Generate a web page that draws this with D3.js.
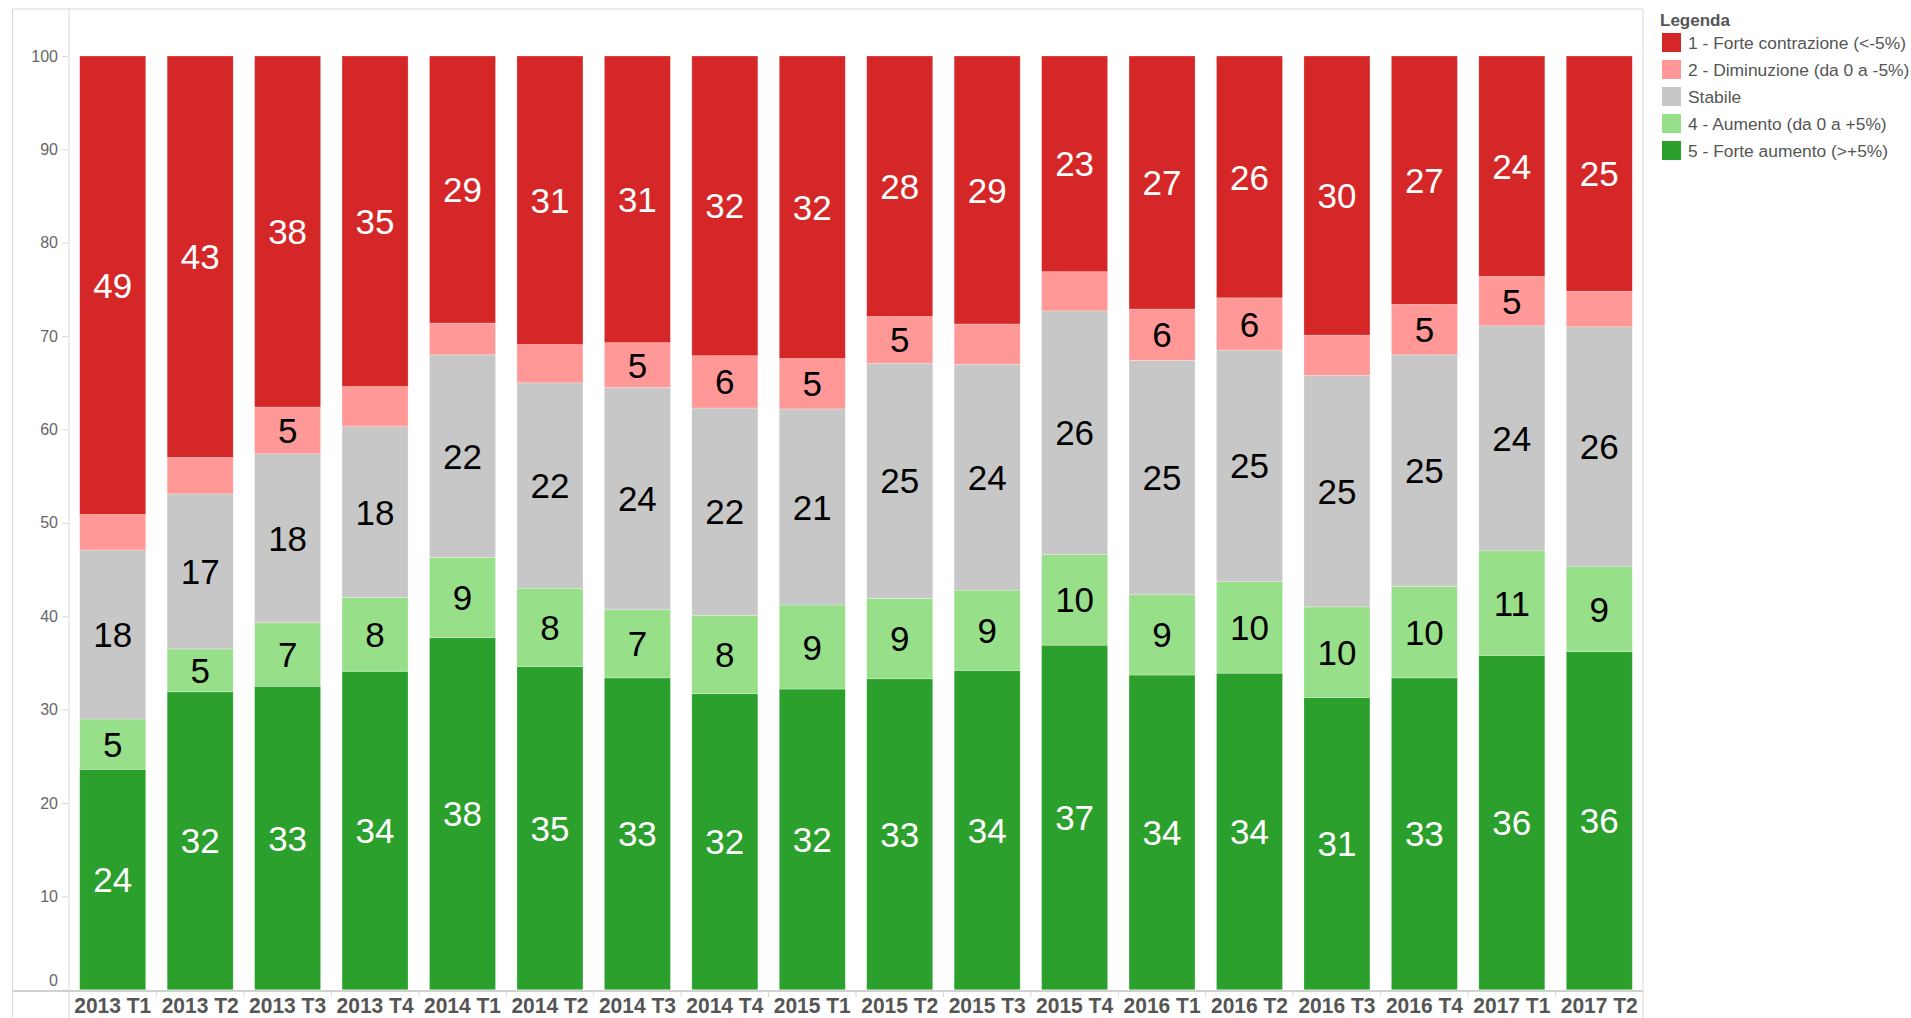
<!DOCTYPE html>
<html>
<head>
<meta charset="utf-8">
<script src="https://cdn.jsdelivr.net/npm/d3@7"></script>
<style>
  html, body { margin: 0; padding: 0; background: #fff; }
  svg { display: block; font-family: "Liberation Sans", Arial, sans-serif; }
</style>
</head>
<body>
<svg id="chart" width="1911" height="1018"></svg>
<script>
const categories = ["2013 T1","2013 T2","2013 T3","2013 T4","2014 T1","2014 T2","2014 T3","2014 T4",
  "2015 T1","2015 T2","2015 T3","2015 T4","2016 T1","2016 T2","2016 T3","2016 T4","2017 T1","2017 T2"];

const forteAumento     = [23.6, 31.9, 32.5, 34.1, 37.7, 34.6, 33.4, 31.7, 32.2, 33.3, 34.2, 36.9, 33.7, 33.9, 31.3, 33.4, 35.8, 36.2];
const aumento          = [5.4, 4.6, 6.8, 7.9, 8.6, 8.4, 7.3, 8.4, 9.0, 8.6, 8.6, 9.7, 8.6, 9.8, 9.7, 9.8, 11.2, 9.1];
const stabile          = [18.1, 16.6, 18.1, 18.3, 21.7, 22.0, 23.8, 22.2, 21.0, 25.2, 24.2, 26.1, 25.1, 24.8, 24.8, 24.8, 24.1, 25.7];
const diminuzione      = [3.8, 3.9, 5.0, 4.3, 3.4, 4.1, 4.8, 5.6, 5.4, 5.0, 4.3, 4.2, 5.5, 5.6, 4.3, 5.4, 5.3, 3.8];
const forteContrazione = [49.1, 43.0, 37.6, 35.4, 28.6, 30.9, 30.7, 32.1, 32.4, 27.9, 28.7, 23.1, 27.1, 25.9, 29.9, 26.6, 23.6, 25.2];

const yTicks = [0, 10, 20, 30, 40, 50, 60, 70, 80, 90, 100];

const legendTitle = "Legenda";
const seriesKeys   = ["s5", "s4", "s3", "s2", "s1"]; // bottom to top
const seriesNames  = {
  s1: "1 - Forte contrazione (<-5%)",
  s2: "2 - Diminuzione (da 0 a -5%)",
  s3: "Stabile",
  s4: "4 - Aumento (da 0 a +5%)",
  s5: "5 - Forte aumento (>+5%)"
};
const seriesColors = { s1: "#d62728", s2: "#ff9896", s3: "#c7c7c7", s4: "#98df8a", s5: "#2ca02c" };
const labelColors  = { s1: "#ffffff", s2: "#000000", s3: "#000000", s4: "#000000", s5: "#ffffff" };

const table = categories.map((c, i) => ({
  cat: c,
  s5: forteAumento[i], s4: aumento[i], s3: stabile[i], s2: diminuzione[i], s1: forteContrazione[i]
}));

const svg = d3.select("#chart");

const plotLeft = 69, plotRight = 1643, plotTop = 9, axisY = 991;
const outerLeft = 12.5;

const x = d3.scaleBand().domain(categories).range([plotLeft, plotRight]).paddingInner(0.245).paddingOuter(0.1225);
const y = d3.scaleLinear().domain([0, 100]).range([989.7, 56]);

const gridColor = "#d9d9d9";

// frame lines
svg.append("line").attr("x1", outerLeft).attr("x2", plotRight).attr("y1", plotTop).attr("y2", plotTop).attr("stroke", gridColor);
svg.append("line").attr("x1", outerLeft).attr("x2", outerLeft).attr("y1", plotTop).attr("y2", 1018).attr("stroke", gridColor);
svg.append("line").attr("x1", plotLeft).attr("x2", plotLeft).attr("y1", plotTop).attr("y2", 1018).attr("stroke", gridColor);
svg.append("line").attr("x1", plotRight).attr("x2", plotRight).attr("y1", plotTop).attr("y2", 1018).attr("stroke", gridColor);

// stacked bars
const stack = d3.stack().keys(seriesKeys);
const series = stack(table);

const gBars = svg.append("g");
series.forEach(s => {
  const key = s.key;
  gBars.append("g").selectAll("rect").data(s).join("rect")
    .attr("x", d => x(d.data.cat))
    .attr("width", x.bandwidth())
    .attr("y", d => y(d[1]))
    .attr("height", d => y(d[0]) - y(d[1]))
    .attr("fill", seriesColors[key])
    .attr("stroke", "rgba(255,255,255,0.35)")
    .attr("stroke-width", 0.7);
});

// labels
series.forEach(s => {
  const key = s.key;
  gBars.append("g").selectAll("text").data(s.filter(d => (d[1] - d[0]) >= 4.55)).join("text")
    .attr("x", d => x(d.data.cat) + x.bandwidth() / 2)
    .attr("y", d => (y(d[0]) + y(d[1])) / 2)
    .attr("dy", "0.36em")
    .attr("text-anchor", "middle")
    .attr("font-size", 35)
    .attr("fill", labelColors[key])
    .text(d => Math.round(d[1] - d[0]));
});

// y axis
const yAxis = d3.axisLeft(y).tickValues(yTicks).tickSize(6).tickPadding(4);
const gy = svg.append("g").attr("transform", `translate(${plotLeft - 1},0)`).call(yAxis);
gy.select(".domain").remove();
gy.selectAll(".tick line").attr("stroke", gridColor);
gy.selectAll(".tick text")
  .attr("font-size", 16)
  .attr("fill", "#666")
  .attr("font-family", "Liberation Sans, Arial, sans-serif")
  .attr("dy", d => d === 0 ? "-0.25em" : "0.32em");

// x axis
svg.append("line").attr("x1", outerLeft).attr("x2", plotRight).attr("y1", axisY).attr("y2", axisY)
  .attr("stroke", "#d0d0d0").attr("stroke-width", 2);
const xAxis = d3.axisBottom(x).tickSize(0).tickPadding(0);
const gx = svg.append("g").attr("transform", `translate(0,${axisY})`).call(xAxis);
gx.select(".domain").remove();
gx.selectAll(".tick text")
  .attr("y", 22)
  .attr("dy", 0)
  .attr("font-size", 22)
  .attr("font-weight", "bold")
  .attr("fill", "#555")
  .attr("font-family", "Liberation Sans, Arial, sans-serif")
  .attr("textLength", 77)
  .attr("lengthAdjust", "spacingAndGlyphs");
// separators between header cells
svg.append("g").selectAll("line").data(categories.slice(1)).join("line")
  .attr("x1", d => x(d) - (x.step() - x.bandwidth()) / 2)
  .attr("x2", d => x(d) - (x.step() - x.bandwidth()) / 2)
  .attr("y1", axisY).attr("y2", axisY + 6)
  .attr("stroke", gridColor);

// legend
const lg = svg.append("g").attr("transform", "translate(1660,0)");
lg.append("text").attr("x", 0).attr("y", 26).attr("font-size", 17).attr("font-weight", "bold")
  .attr("fill", "#555").text(legendTitle);
const legendOrder = ["s1", "s2", "s3", "s4", "s5"];
const items = lg.selectAll("g.item").data(legendOrder).join("g").attr("class", "item")
  .attr("transform", (d, i) => `translate(0,${33 + i * 27})`);
items.append("rect").attr("x", 2).attr("y", 0).attr("width", 19).attr("height", 19)
  .attr("fill", d => seriesColors[d]);
items.append("text").attr("x", 28).attr("y", 16).attr("font-size", 17.4).attr("fill", "#555")
  .text(d => seriesNames[d]);
</script>
</body>
</html>
